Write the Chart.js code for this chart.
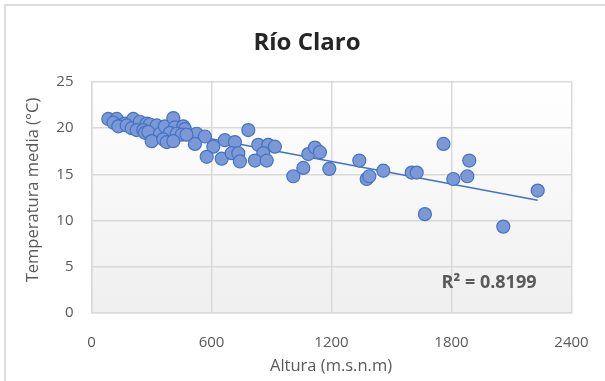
<!DOCTYPE html>
<html>
<head>
<meta charset="utf-8">
<script src="https://cdn.jsdelivr.net/npm/chart.js@4.4.1/dist/chart.umd.min.js"></script>
<style>
  html, body { margin: 0; padding: 0; background: #ffffff; }
  #wrap { width: 605px; height: 381px; position: relative; }
</style>
</head>
<body>
<div id="wrap"><canvas id="chart" width="605" height="381"></canvas></div>
<script>
// Estaciones: altura (m.s.n.m) y temperatura media anual (°C)
const altitudes = [
  84, 126, 110, 142, 167, 134, 209, 176, 201, 242,
  276, 292, 326, 226, 259, 267, 284, 342, 384, 367,
  409, 417, 459, 467, 392, 426, 451, 526, 567, 301,
  359, 376, 409, 517, 609, 576, 651, 667, 717, 701,
  734, 742, 784, 834, 884, 917, 859, 817, 876, 1009,
  1059, 1084, 1117, 1142, 1189, 1339, 1376, 1389, 1459, 1601,
  1626, 1667, 1760, 1809, 1879, 1889, 2059, 2231, 475
];
const temperatures = [
  21.0, 21.0, 20.6, 20.3, 20.5, 20.2, 21.0, 20.3, 20.0, 20.7,
  20.5, 20.4, 20.3, 19.8, 19.8, 19.5, 19.6, 19.4, 19.6, 20.2,
  21.1, 20.1, 20.2, 19.9, 19.5, 19.4, 19.3, 19.4, 19.1, 18.6,
  18.8, 18.5, 18.6, 18.3, 18.0, 16.9, 16.7, 18.7, 18.5, 17.3,
  17.3, 16.4, 19.8, 18.2, 18.2, 18.0, 17.3, 16.5, 16.5, 14.8,
  15.7, 17.2, 17.9, 17.4, 15.6, 16.5, 14.5, 14.8, 15.4, 15.2,
  15.2, 10.7, 18.3, 14.5, 14.8, 16.5, 9.35, 13.25, 19.3
];
// Linear trend line (ends at the lowest and highest station)
const trendAltitudes = [84, 2231];
const trendTemperatures = [20.95, 12.21];
const xTicks = [0, 600, 1200, 1800, 2400];
const yTicks = [0, 5, 10, 15, 20, 25];
const chartTitle = 'Río Claro';
const xTitle = 'Altura (m.s.n.m)';
const yTitle = 'Temperatura media (°C)';
const r2Label = 'R² = 0.8199';

const FONT = '"Open Sans", "Noto Sans", sans-serif';
const TEXT = '#595959';
const GRID = '#d9d9d9';
const BLUE = '#4472c4';

const stations = altitudes.map((x, i) => ({ x, y: temperatures[i] }));
const trend = trendAltitudes.map((x, i) => ({ x, y: trendTemperatures[i] }));

const decor = {
  id: 'decor',
  beforeDraw(chart) {
    const { ctx, chartArea: a } = chart;
    ctx.save();
    ctx.fillStyle = '#ffffff';
    ctx.fillRect(0, 0, chart.width, chart.height);
    // outer frame
    ctx.strokeStyle = '#dedede';
    ctx.lineWidth = 2;
    ctx.strokeRect(5, 5, chart.width + 10, chart.height + 10);
    // plot area shading
    const g = ctx.createLinearGradient(0, a.top, 0, a.bottom);
    g.addColorStop(0, '#ffffff');
    g.addColorStop(1, '#efefef');
    ctx.fillStyle = g;
    ctx.fillRect(a.left, a.top, a.right - a.left, a.bottom - a.top);
    ctx.restore();
  },
  afterDraw(chart) {
    const { ctx } = chart;
    ctx.save();
    ctx.textAlign = 'center';
    ctx.textBaseline = 'middle';
    ctx.fillStyle = '#262626';
    ctx.font = 'bold 24px ' + FONT;
    ctx.fillText(chartTitle, 307, 43);
    ctx.fillStyle = TEXT;
    ctx.font = '16.5px ' + FONT;
    ctx.fillText(xTitle, 331, 366);
    ctx.save();
    ctx.translate(33, 190);
    ctx.rotate(-Math.PI / 2);
    ctx.fillText(yTitle, 0, 0);
    ctx.restore();
    ctx.font = 'bold 18px ' + FONT;
    ctx.fillText(r2Label, 489, 283);
    ctx.restore();
  }
};

new Chart(document.getElementById('chart'), {
  type: 'scatter',
  data: {
    datasets: [
      {
        label: 'Estaciones',
        data: stations,
        pointRadius: 6.5,
        pointHoverRadius: 6.5,
        pointBackgroundColor: '#7b99d6',
        pointBorderColor: BLUE,
        pointBorderWidth: 1.2,
        order: 1
      },
      {
        label: 'Tendencia lineal',
        type: 'line',
        data: trend,
        borderColor: BLUE,
        borderWidth: 1.6,
        pointRadius: 0,
        fill: false,
        order: 2
      }
    ]
  },
  plugins: [decor],
  options: {
    responsive: false,
    animation: false,
    devicePixelRatio: 1,
    layout: { padding: { left: 0, right: 33.5, top: 82, bottom: 0 } },
    plugins: {
      legend: { display: false },
      tooltip: { enabled: false },
      title: { display: false }
    },
    scales: {
      x: {
        type: 'linear',
        min: xTicks[0],
        max: xTicks[xTicks.length - 1],
        afterBuildTicks(s) { s.ticks = xTicks.map(v => ({ value: v })); },
        afterFit(s) { s.height = 68; },
        grid: { color: GRID, lineWidth: 1.5, drawTicks: true, tickLength: 12, tickColor: 'rgba(0,0,0,0)' },
        border: { color: GRID, width: 1.5 },
        ticks: {
          color: TEXT, font: { family: FONT, size: 15 }, padding: 9, maxRotation: 0,
          callback: v => String(v)
        }
      },
      y: {
        type: 'linear',
        min: yTicks[0],
        max: yTicks[yTicks.length - 1],
        afterBuildTicks(s) { s.ticks = yTicks.map(v => ({ value: v })); },
        afterFit(s) { s.width = 91.5; },
        grid: { color: GRID, lineWidth: 1.5, drawTicks: false },
        border: { color: GRID, width: 1.5 },
        ticks: {
          color: TEXT, font: { family: FONT, size: 15 }, padding: 18,
          callback: v => String(v)
        }
      }
    }
  }
});
</script>
</body>
</html>
